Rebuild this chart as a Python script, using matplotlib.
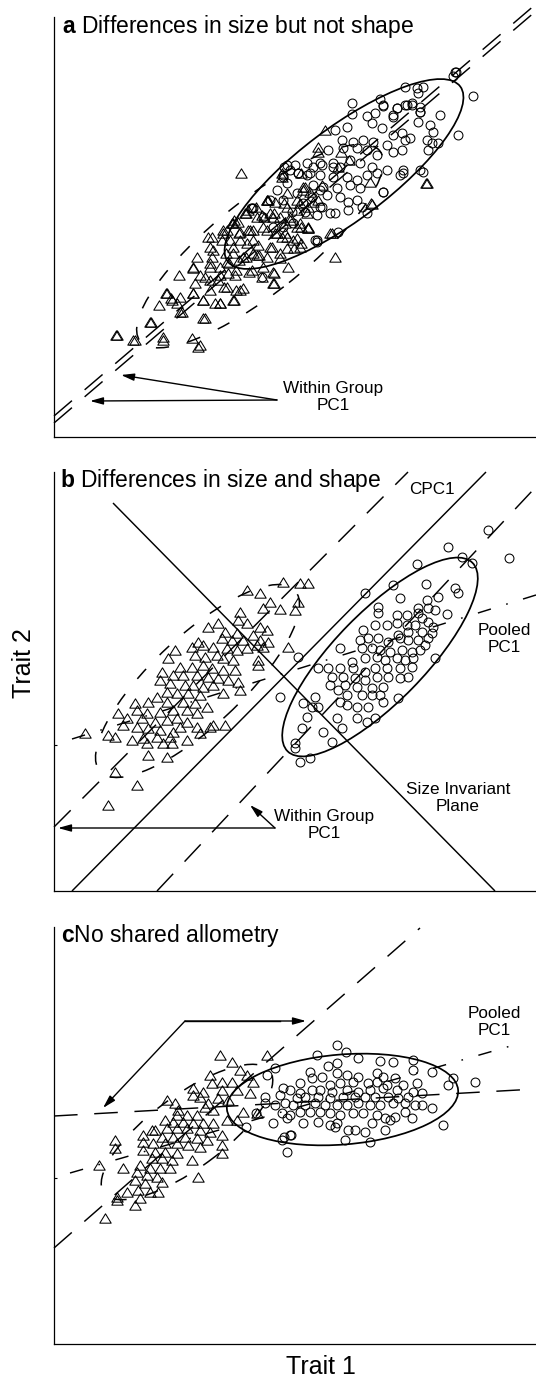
import matplotlib
matplotlib.use("Agg")
import matplotlib.pyplot as plt
from matplotlib.patches import Ellipse
from matplotlib.path import Path

plt.rcParams['font.family'] = ['Liberation Sans', 'DejaVu Sans']
plt.rcParams['mathtext.fontset'] = 'custom'
plt.rcParams['mathtext.bf'] = 'Liberation Sans:bold'
plt.rcParams['mathtext.rm'] = 'Liberation Sans'
plt.rcParams['lines.scale_dashes'] = False

# ---------------- data (in trait units before offset) -------------
# panel a : group 1 (triangles) and group 2 (circles)
a_triangles = [
    (241,173),(116,335),(135,340),(151,322),(163,337),(192,338),(198,347),(203,318),(179,275),(193,268),
    (159,305),(166,293),(171,298),(177,303),(182,312),(193,293),(203,300),(215,303),(220,303),(234,300),
    (210,290),(224,287),(236,290),(243,288),(274,283),(274,273),(249,272),(262,277),(208,237),(223,233),
    (234,220),(213,250),(226,253),(239,233),(248,230),(253,240),(210,263),(220,267),(228,273),(236,270),
    (246,257),(259,255),(270,247),(277,233),(285,233),(294,248),(301,243),(308,227),(267,200),(274,213),
    (264,217),(284,203),(297,200),(305,187),(308,207),(318,200),(318,152),(325,130),(341,152),(335,257),
    (371,203),(426,183),(330,233),(290,217),(256,207),(246,213),(233,247),(218,280),(195,283),(205,277),
    (197,257),(282,173),(301,173),(287,193),(349,160),(338,167),(301,227),(280,253),(253,253),(239,260),
    (229,263),(268,200),(275,202),(262,215),(273,217),(285,223),(297,227),(308,228),(253,230),(267,230),
    (282,237),(293,240),(300,247),(240,232),(247,243),(258,245),(272,247),(287,248),(233,253),(243,257),
    (257,255),(267,257),(280,258),(288,267),(273,272),(273,283),(263,267),(252,270),(227,262),(210,267),
    (220,275),(235,275),(193,267),(200,275),(210,280),(227,287),(240,290),(233,300),(220,303),(203,300),
    (193,293),(180,297),(172,300),(167,293),(180,312),(205,318),(163,340),(200,345),(117,335),(133,340),
    (150,322),(212,237),(210,247),(212,257),(227,230),(222,240),(232,223),(238,222),(248,210),(303,190),
    (313,202),(300,203),(318,147),(370,182),(427,183),(372,204),(282,177),(303,187),(310,192),(322,185),
    (267,200),(287,207),(297,210),(307,213),(257,217),(270,213),(280,217),(290,220),(300,223),(308,228),
    (245,213),(233,223),(250,230),(263,227),(275,233),(287,237),(297,238),(223,230),(230,240),(240,240),
    (332,233),
]
a_circles = [
    (455,72),(453,76),(458,135),(405,87),(417,88),(423,87),(418,93),(380,99),(383,106),(397,108),
    (407,105),(412,103),(420,107),(420,112),(440,115),(352,114),(367,116),(375,113),(393,117),(418,122),
    (430,125),(433,132),(427,140),(432,143),(438,143),(428,150),(420,170),(335,130),(347,127),(372,123),
    (382,128),(393,135),(402,133),(405,140),(410,138),(342,140),(353,142),(363,140),(373,142),(387,145),
    (393,152),(402,150),(328,150),(343,148),(357,148),(367,150),(377,155),(295,165),(287,165),(307,163),
    (320,163),(333,163),(340,167),(350,160),(360,163),(372,167),(377,173),(387,170),(403,170),(400,175),
    (310,173),(320,175),(298,173),(333,177),(347,177),(357,180),(367,175),(313,185),(323,187),(337,188),
    (350,185),(360,188),(383,192),(312,197),(327,195),(340,197),(348,202),(357,200),(362,207),(367,213),
    (348,210),(335,213),(320,207),(303,203),(317,215),(305,212),(292,212),(283,200),(297,193),(277,190),
    (287,183),(270,200),(253,208),(263,217),(338,232),(317,242),(283,227),(293,223),(273,227),(283,175),
    (290,170),(352,103),(284,167),(251,208),(262,277),(315,240),(383,192),(403,173),(423,172),(283,177),
    (298,173),(307,175),(313,167),(322,165),(333,167),(320,190),(322,207),(330,213),(317,240),(252,208),
    (456,72),(473,96),(383,105),(397,108),(405,105),(412,105),(420,112),(393,115),
]

# panel b
b_triangles = [
    (283,582),(300,583),(308,583),(247,590),(260,593),(270,602),(298,602),(263,608),(280,609),(295,610),
    (240,612),(238,620),(218,623),(208,627),(247,623),(260,627),(267,630),(225,632),(237,633),(253,635),
    (222,638),(232,640),(243,640),(260,640),(268,642),(198,642),(203,645),(192,647),(213,647),(227,648),
    (237,650),(247,648),(257,645),(263,647),(288,647),(175,650),(168,658),(195,655),(205,657),(217,655),
    (223,658),(233,660),(258,660),(258,665),(180,667),(192,667),(203,665),(212,668),(223,670),(235,670),
    (162,672),(173,675),(183,675),(197,675),(208,677),(218,678),(228,680),(238,682),(160,680),(170,683),
    (185,685),(193,685),(203,687),(213,685),(240,690),(167,692),(177,693),(188,693),(200,695),(223,693),
    (157,697),(148,702),(167,702),(183,702),(195,703),(207,707),(135,703),(137,710),(147,713),(160,712),
    (173,710),(187,710),(197,713),(118,713),(127,718),(142,718),(155,722),(167,720),(177,718),(187,722),
    (213,725),(225,725),(123,725),(137,727),(148,728),(160,730),(173,732),(108,735),(115,737),(85,733),
    (132,740),(143,738),(157,737),(170,737),(187,740),(200,733),(210,727),(147,743),(163,743),(172,743),
    (148,755),(167,757),(115,772),(137,785),(108,805),(197,727),(180,727),
]
b_circles = [
    (488,530),(448,547),(462,557),(472,563),(417,564),(393,585),(426,584),(455,588),(458,593),(365,593),
    (400,598),(427,600),(438,597),(378,607),(378,613),(397,615),(407,615),(418,608),(418,613),(428,608),
    (435,610),(447,614),(422,618),(428,622),(375,625),(387,625),(397,623),(407,625),(415,625),(433,627),
    (363,630),(398,635),(408,632),(422,632),(432,633),(360,640),(368,638),(378,638),(388,642),(400,638),
    (408,640),(418,640),(428,638),(340,648),(362,648),(372,648),(380,650),(390,652),(402,650),(412,652),
    (420,650),(425,645),(352,662),(365,658),(377,657),(385,660),(397,658),(405,660),(413,658),(435,658),
    (318,668),(328,668),(340,668),(353,668),(365,672),(375,668),(387,668),(400,668),(412,667),(332,677),
    (343,677),(355,678),(365,680),(377,677),(388,677),(400,678),(408,677),(330,685),(345,685),(357,687),
    (372,688),(383,687),(280,697),(315,697),(338,690),(347,695),(362,695),(372,695),(380,695),(398,698),
    (340,702),(347,705),(357,707),(368,707),(383,702),(303,703),(312,707),(318,707),(307,717),(337,718),
    (357,718),(367,722),(375,718),(302,728),(323,732),(342,728),(332,742),(295,743),(295,748),(300,762),
    (310,758),(298,657),(509,558),
]

# panel c
c_triangles = [
    (220,1055),(232,1062),(267,1055),(240,1070),(247,1075),(210,1075),(212,1083),(222,1082),(232,1082),(253,1082),
    (193,1088),(203,1092),(222,1090),(237,1090),(250,1093),(193,1095),(200,1097),(218,1098),(228,1100),(167,1100),
    (175,1103),(208,1103),(205,1107),(213,1110),(243,1112),(257,1113),(178,1110),(177,1115),(187,1115),(197,1115),
    (227,1120),(237,1120),(165,1120),(173,1122),(183,1122),(193,1123),(203,1123),(213,1123),(155,1130),(167,1128),
    (177,1128),(187,1128),(200,1130),(210,1132),(222,1135),(152,1130),(143,1135),(162,1137),(173,1137),(185,1137),
    (197,1138),(207,1140),(143,1142),(153,1143),(165,1143),(177,1143),(188,1145),(200,1147),(222,1145),(115,1140),
    (115,1148),(143,1150),(155,1152),(165,1152),(177,1153),(222,1153),(152,1158),(162,1158),(172,1160),(192,1160),
    (99,1165),(123,1168),(140,1165),(150,1168),(160,1168),(170,1168),(137,1172),(147,1175),(157,1177),(135,1180),
    (145,1183),(162,1182),(198,1177),(127,1192),(138,1190),(150,1192),(158,1192),(117,1197),(117,1200),(140,1198),
    (135,1205),(105,1218),
]
c_circles = [
    (337,1045),(346,1052),(317,1055),(358,1058),(413,1060),(380,1061),(393,1062),(328,1066),(337,1063),(432,1072),
    (453,1078),(475,1082),(413,1070),(310,1072),(322,1077),(337,1073),(347,1075),(358,1077),(377,1073),(383,1077),
    (395,1078),(417,1083),(448,1085),(300,1083),(312,1078),(330,1085),(340,1083),(353,1082),(368,1083),(377,1082),
    (387,1085),(403,1085),(283,1088),(290,1090),(300,1093),(312,1090),(320,1090),(332,1092),(347,1090),(358,1092),
    (370,1090),(383,1088),(397,1090),(413,1092),(422,1093),(280,1095),(297,1098),(305,1097),(318,1097),(330,1098),
    (343,1097),(355,1097),(365,1097),(375,1097),(388,1097),(398,1098),(408,1097),(265,1097),(265,1103),(275,1105),
    (285,1103),(293,1105),(305,1105),(315,1103),(325,1105),(337,1105),(347,1105),(358,1103),(370,1105),(380,1105),
    (393,1103),(405,1103),(415,1105),(422,1105),(432,1108),(282,1113),(290,1115),(300,1112),(310,1112),(320,1112),
    (330,1113),(340,1115),(353,1113),(363,1113),(377,1115),(385,1118),(395,1117),(405,1112),(412,1118),(273,1123),
    (287,1118),(303,1123),(318,1122),(330,1125),(337,1123),(372,1123),(390,1120),(335,1127),(348,1130),(355,1130),
    (365,1132),(385,1130),(443,1125),(290,1135),(282,1140),(345,1140),(370,1142),(287,1152),(267,1075),(275,1068),
    (246,1127),(256,1113),(284,1137),(291,1135),
]

# ellipses: (centre x, centre y, semi-major, semi-minor, angle deg)
a_circle_ellipse = (344, 174, 145.5, 46, 37)
a_triangle_ellipse = (260, 246, 153, 46.7, 38.4)
b_circle_ellipse = (380, 657, 132, 45, 45.6)
b_triangle_ellipse = (197.5, 681, 133, 45, 43)
c_circle_ellipse = (342.5, 1099.5, 116, 45, 4.7)
c_triangle_ellipse = (187, 1132, 103, 36.5, 36.3)

# axis lines: (x1, y1, x2, y2)
a_within_pc1 = [(54, 416, 536, 4), (54, 423, 536, 11)]
b_size_invariant = (113, 503, 495, 891)
b_cpc1 = (72, 891, 486, 472)
b_within_pc1 = [(54, 827, 408, 472), (157, 891, 533, 490)]
b_pooled_pc1 = (72, 739, 536, 595)
c_within_pc1 = [(54, 1248, 420, 928), (54, 1116, 536, 1089)]
c_pooled_pc1 = (70, 1173, 521, 1043)

# ---------------- figure -------------
W, H = 536, 1379
X0 = 54
panels = {'a': (17, 437), 'b': (472, 891), 'c': (927, 1344)}
fig = plt.figure(figsize=(W / 100, H / 100), dpi=100)

LONG_DASH = (0, (17, 12))
ELL_DASH = (0, (9.5, 14))
POOLED = (0, (9.8, 11.5, 1.2, 11.5))
MS_CIRC = 6.4
MS_TRI = 8.2
MEW = 0.75
tri_marker = Path([(-1, -0.82), (1, -0.82), (0, 0.82), (-1, -0.82)],
                  [Path.MOVETO, Path.LINETO, Path.LINETO, Path.CLOSEPOLY])


def make_ax(key):
    top, bot = panels[key]
    ax = fig.add_axes([X0 / W, 1 - bot / H, (W - X0) / W, (bot - top) / H])
    ax.set_xlim(0, W - X0)
    ax.set_ylim(0, bot - top)
    for s in ('top', 'right'):
        ax.spines[s].set_visible(False)
    for s in ('left', 'bottom'):
        ax.spines[s].set_linewidth(0.9)
    ax.set_xticks([])
    ax.set_yticks([])
    ax.patch.set_alpha(0)
    return ax, bot


def tx(x):
    return x - X0


def pts(lst, bot):
    return [p[0] - X0 for p in lst], [bot - p[1] for p in lst]


def scatter(ax, tri, circ, bot):
    x, y = pts(tri, bot)
    ax.plot(x, y, linestyle='none', marker=tri_marker, ms=MS_TRI, mfc='none', mec='black', mew=MEW, zorder=3)
    x, y = pts(circ, bot)
    ax.plot(x, y, linestyle='none', marker='o', ms=MS_CIRC, mfc='none', mec='black', mew=MEW, zorder=3)


def ellipse(ax, e, bot, ls='-', lw=1.25):
    cx, cy, a, b, ang = e
    ax.add_patch(Ellipse((tx(cx), bot - cy), 2 * a, 2 * b, angle=ang, fill=False,
                         ec='black', lw=lw, linestyle=ls, zorder=4))


def line(ax, ln, bot, ls='-', lw=1.05):
    x1, y1, x2, y2 = ln
    ax.plot([tx(x1), tx(x2)], [bot - y1, bot - y2], color='black', lw=lw, linestyle=ls,
            clip_on=False, zorder=4, solid_capstyle='butt', dash_capstyle='butt')


def arrow(ax, start, end, bot):
    ax.annotate('', xy=(tx(end[0]), bot - end[1]), xytext=(tx(start[0]), bot - start[1]),
                arrowprops=dict(arrowstyle='-|>,head_length=0.65,head_width=0.18', lw=1.0,
                                color='black', shrinkA=0, shrinkB=0, mutation_scale=12), zorder=5)


def label(ax, x, y, s, bot, size=12.3):
    ax.text(tx(x), bot - y, s, ha='center', va='center', fontsize=size, linespacing=1.15, zorder=6)


def title(ax, x, ybase, s, bot):
    ax.text(tx(x), bot - ybase, s, ha='left', va='baseline', fontsize=16.5, zorder=6)


# panel a
ax, bot = make_ax('a')
scatter(ax, a_triangles, a_circles, bot)
ellipse(ax, a_circle_ellipse, bot)
ellipse(ax, a_triangle_ellipse, bot, ls=ELL_DASH, lw=1.1)
for ln in a_within_pc1:
    line(ax, ln, bot, ls=LONG_DASH)
arrow(ax, (277, 400), (121, 375), bot)
arrow(ax, (277, 400), (90, 401), bot)
label(ax, 333, 397, 'Within Group\nPC1', bot)
title(ax, 61.5, 33, r'$\mathbf{a}$ Differences in size but not shape', bot)

# panel b
ax, bot = make_ax('b')
scatter(ax, b_triangles, b_circles, bot)
ellipse(ax, b_circle_ellipse, bot)
ellipse(ax, b_triangle_ellipse, bot, ls=ELL_DASH, lw=1.1)
line(ax, b_size_invariant, bot)
line(ax, b_cpc1, bot)
for ln in b_within_pc1:
    line(ax, ln, bot, ls=LONG_DASH)
line(ax, b_pooled_pc1, bot, ls=POOLED)
arrow(ax, (275, 828), (58, 828), bot)
arrow(ax, (275, 828), (250, 805), bot)
label(ax, 432, 490, 'CPC1', bot)
label(ax, 504, 639, 'Pooled\nPC1', bot)
label(ax, 458, 798, 'Size Invariant\nPlane', bot)
label(ax, 324, 825, 'Within Group\nPC1', bot)
title(ax, 60, 487, r'$\mathbf{b}$ Differences in size and shape', bot)
ax.set_yticks([bot - 745])
ax.tick_params(axis='y', direction='in', length=2.5, width=0.8, labelleft=False)

# panel c
ax, bot = make_ax('c')
scatter(ax, c_triangles, c_circles, bot)
ellipse(ax, c_circle_ellipse, bot)
ellipse(ax, c_triangle_ellipse, bot, ls=ELL_DASH, lw=1.1)
for ln in c_within_pc1:
    line(ax, ln, bot, ls=LONG_DASH)
line(ax, c_pooled_pc1, bot, ls=POOLED)
top_c = 1021
ax.plot([tx(185), tx(280)], [bot - top_c, bot - top_c], color='black', lw=1.0)
arrow(ax, (185, top_c), (306, top_c), bot)
arrow(ax, (185, top_c), (103, 1108), bot)
label(ax, 494, 1022, 'Pooled\nPC1', bot)
title(ax, 61, 942, r'$\mathbf{c}$No shared allometry', bot)
ax.set_yticks([bot - 1178])
ax.tick_params(axis='y', direction='in', length=2.5, width=0.8, labelleft=False)

fig.text(23.6 / W, 1 - 663 / H, 'Trait 2', rotation=90, ha='center', va='center', fontsize=18)
fig.text(321 / W, 1 - 1367 / H, 'Trait 1', ha='center', va='center', fontsize=18)

fig.savefig('out.png', dpi=100)
